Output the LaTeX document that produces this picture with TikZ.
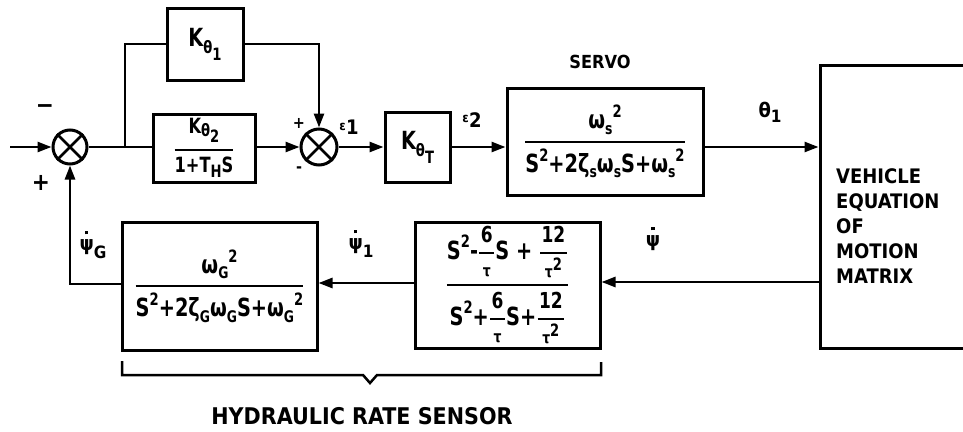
\documentclass[tikz,border=0pt]{standalone}
\usepackage{fontspec}
\usepackage{amsmath}
\setmainfont{DejaVu Sans Condensed}[BoldFont={DejaVu Sans Condensed Bold}]
\newfontfamily\boxfont{DejaVu Sans Condensed Bold}[FakeStretch=0.86]
\usetikzlibrary{arrows.meta}
\newcommand\sps[1]{\raisebox{0.45em}{\fontsize{17}{17}\selectfont #1}}
\newcommand\sbs[1]{\raisebox{-0.22em}{\fontsize{16}{16}\selectfont #1}}
\newcommand\lo[2]{\raisebox{-#1}{\fontsize{17}{17}\selectfont #2}}
\newcommand\dpsi{\ooalign{ψ\cr\hidewidth\raisebox{0.8em}{\rule{3.2pt}{3.2pt}}\hidewidth\cr}}
\newcommand\fr[2]{$\genfrac{}{}{2pt}{0}{\text{#1}}{\text{#2}}$}
\newcommand\sfr[2]{$\genfrac{}{}{1.4pt}{0}{\mbox{\boxfont\fontsize{22}{22}\selectfont\kern1.5pt #1\kern1.5pt}}{\mbox{\boxfont\fontsize{16}{16}\selectfont #2}}$}
\tikzset{
  blk/.style={draw, line width=3pt, inner sep=2pt, font=\boxfont\fontsize{25}{27}\selectfont},
  ln/.style={line width=2.6pt},
  arr/.style={line width=2.6pt, -{Triangle[length=14pt,width=10pt]}},
  sumc/.style={draw, circle, line width=3pt, minimum size=34pt, inner sep=0pt},
  lab/.style={font=\bfseries\fontsize{20}{22}\selectfont, inner sep=0pt},
  sgn/.style={font=\bfseries\fontsize{24}{24}\selectfont, inner sep=0pt},
}
\begin{document}
\begin{tikzpicture}[x=1pt,y=-1pt]
\useasboundingbox (0,0) rectangle (963,431);
% summing junctions
\node[sumc] (s1) at (70,147) {};
\draw[ln] (s1.north west) -- (s1.south east) (s1.north east) -- (s1.south west);
\node[sumc, minimum size=36pt] (s2) at (319,147) {};
\draw[ln] (s2.north west) -- (s2.south east) (s2.north east) -- (s2.south west);
% blocks
\node[blk, minimum width=76pt, minimum height=72pt] (k1) at (205,44) {K\lo{7pt}{θ\lo{7pt}{1}}};
\node[blk, minimum width=102pt, minimum height=68pt, inner sep=0pt, font=\boxfont\fontsize{21}{22}\selectfont] (k2) at (204,148)
  {\fr{K\lo{3pt}{θ\lo{6pt}{2}}}{1+T\lo{5pt}{H}S}};
\node[blk, minimum width=65pt, minimum height=70pt] (kT) at (417.5,147) {K\lo{7pt}{θ\lo{7pt}{T}}};
\node[blk, minimum width=196pt, minimum height=107pt] (servo) at (605,141.5)
  {\fr{ω\sbs{s}\sps{2}}{S\sps{2}+2ζ\sbs{s}ω\sbs{s}S+ω\sbs{s}\sps{2}}};
\node[blk, minimum width=185pt, minimum height=126pt] (filt) at (507.5,285)
  {\fr{S\sps{2}-\sfr{6}{τ}S + \sfr{12}{τ\sps{2}}}{S\sps{2}+\sfr{6}{τ}S+\sfr{12}{τ\sps{2}}}};
\node[blk, minimum width=195pt, minimum height=128pt] (g) at (219.5,286)
  {\fr{ω\sbs{G}\sps{2}}{S\sps{2}+2ζ\sbs{G}ω\sbs{G}S+ω\sbs{G}\sps{2}}};
\node[draw, line width=3pt, minimum width=160pt, minimum height=283pt] (veh) at (900,206.5) {};
\node[lab, anchor=north west, align=left, font=\bfseries\fontsize{20}{25}\selectfont] (vtxt) at (836,168)
  {VEHICLE\\EQUATION\\OF\\MOTION\\MATRIX};
\node[lab, font=\bfseries\fontsize{18}{20}\selectfont] (servolab) at (600,62) {SERVO};
% connectors
\coordinate (in) at (10,147);
\draw[arr] (in) -- (s1);
\draw[ln] (s1) -- (k2.west |- s1);
\coordinate (br) at (125,147);
\draw[ln] (br) |- (k1.west);
\draw[arr] (k1.east) -| (s2.north);
\draw[arr] (k2.east |- s2) -- (s2);
\draw[arr] (s2) -- (kT.west |- s2);
\draw[arr] (kT.east |- s2) -- (servo.west |- s2);
\coordinate (sv) at (servo.east |- s2);
\draw[arr] (sv) -- (sv -| veh.west);
\coordinate (vl) at (veh.west |- 0,282);
\draw[arr] (vl) -- (vl -| filt.east);
\coordinate (fl) at (filt.west |- 0,283);
\draw[arr] (fl) -- (fl -| g.east);
\coordinate (gl) at (g.west |- 0,284);
\draw[arr] (gl) -| (s1.south);
% signs and signal labels
\node[sgn] (m1) at (45,109) {−};
\node[sgn] (p1) at (41,183) {+};
\node[lab, font=\bfseries\fontsize{16}{16}\selectfont] (p2) at (299,123) {+};
\node[lab, font=\bfseries\fontsize{16}{16}\selectfont] (m2) at (299,170) {-};
\node[lab] (e1) at (349,127) {\raisebox{4pt}{\fontsize{13}{13}\selectfont ε}1};
\node[lab] (e2) at (472,120) {\raisebox{5pt}{\fontsize{13}{13}\selectfont ε}2};
\node[lab] (th) at (770,112) {θ\lo{5pt}{1}};
\node[lab] (pg) at (93,249) {\dpsi\lo{8pt}{G}};
\node[lab] (p1l) at (361,248) {\dpsi\lo{8pt}{1}};
\node[lab] (pl) at (653,241) {\dpsi};
% brace
\draw[line width=2.5pt] (122,361) -- (122,375) -- (363,375) -- (370,383) -- (377,375) -- (601,375) -- (601,362);
\node[lab, font=\bfseries\fontsize{23}{24}\selectfont] (hrs) at (362,416) {HYDRAULIC RATE SENSOR};
\end{tikzpicture}
\end{document}
